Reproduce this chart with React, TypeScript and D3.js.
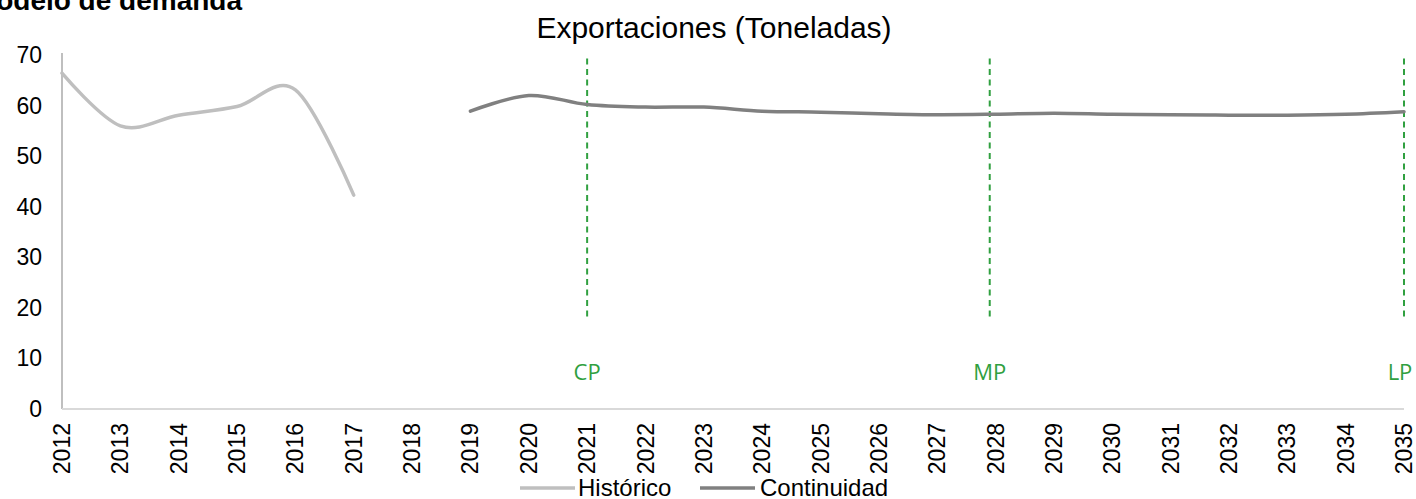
import React from "react";
import * as d3 from "d3";

const years = d3.range(2012, 2036).map(String);
const historicoYears = ["2012", "2013", "2014", "2015", "2016", "2017"];
const historicoValues = [66.4, 56.0, 58.1, 59.8, 63.1, 42.3];
const continuidadYears = d3.range(2019, 2036).map(String);
const continuidadValues = [
  58.9, 62.0, 60.2, 59.7, 59.7, 58.9, 58.7, 58.4, 58.2, 58.3, 58.5, 58.3, 58.2,
  58.1, 58.1, 58.3, 58.8,
];
const yTicks = [0, 10, 20, 30, 40, 50, 60, 70];
const horizons = [
  { label: "CP", year: 2021 },
  { label: "MP", year: 2027.9 },
  { label: "LP", year: 2035 },
];

const W = 1416;
const H = 499;
const font = "'Liberation Sans', Arial, sans-serif";
const green = "#30a040";

const App = () => {
  const x = d3.scalePoint().domain(years).range([62, 1404]);
  const xYear = d3.scaleLinear().domain([2012, 2035]).range([62, 1404]);
  const y = d3.scaleLinear().domain([0, 70]).range([409, 55]);

  // excel-style smoothed line
  const line = d3
    .line<[string, number]>()
    .x((d) => x(d[0]) as number)
    .y((d) => y(d[1]))
    .curve(d3.curveCardinal.tension(0));

  const hist = historicoYears.map((yr, i) => [yr, historicoValues[i]] as [string, number]);
  const cont = continuidadYears.map((yr, i) => [yr, continuidadValues[i]] as [string, number]);

  return (
    <svg
      width={W}
      height={H}
      style={{ position: "absolute", left: 0, top: 0, background: "#fff" }}
      fontFamily={font}
    >
      {/* heading, cut at the top-left in the original */}
      <text x={242} y={10} textAnchor="end" fontSize={28} fontWeight="bold" fill="#000">
        Modelo de demanda
      </text>
      <text x={714} y={38} textAnchor="middle" fontSize={30} fill="#000">
        Exportaciones (Toneladas)
      </text>

      {/* axes */}
      <line x1={62} x2={62} y1={53} y2={409} stroke="#bfbfbf" strokeWidth={2} />
      <line x1={62} x2={1404} y1={409} y2={409} stroke="#d9d9d9" strokeWidth={2} />

      {yTicks.map((t) => (
        <text key={t} x={42} y={y(t)} dy="0.35em" textAnchor="end" fontSize={23} fill="#000">
          {t}
        </text>
      ))}

      {years.map((yr) => (
        <text
          key={yr}
          transform={`translate(${x(yr)}, 423) rotate(-90)`}
          dy="0.35em"
          textAnchor="end"
          fontSize={23}
          fill="#000"
        >
          {yr}
        </text>
      ))}

      {/* horizon markers */}
      {horizons.map((h) => (
        <g key={h.label}>
          <line
            x1={xYear(h.year)}
            x2={xYear(h.year)}
            y1={y(69.3)}
            y2={y(17.6)}
            stroke={green}
            strokeWidth={2}
            strokeDasharray="6,4.5"
          />
          <text
            x={h.label === "LP" ? xYear(h.year) - 4 : xYear(h.year)}
            y={380}
            textAnchor="middle"
            fontSize={22}
            fontFamily="'Open Sans', 'Noto Sans', sans-serif"
            fill={green}
          >
            {h.label}
          </text>
        </g>
      ))}

      <path d={line(hist) || ""} fill="none" stroke="#bfbfbf" strokeWidth={3.5} strokeLinecap="round" />
      <path d={line(cont) || ""} fill="none" stroke="#808080" strokeWidth={3.5} strokeLinecap="round" />

      {/* legend */}
      <line x1={520} x2={575} y1={488} y2={488} stroke="#bfbfbf" strokeWidth={3.5} />
      <text x={578} y={496} fontSize={24} fill="#000">
        Histórico
      </text>
      <line x1={700} x2={755} y1={488} y2={488} stroke="#808080" strokeWidth={3.5} />
      <text x={760} y={496} fontSize={24} fill="#000">
        Continuidad
      </text>
    </svg>
  );
};

export default App;
